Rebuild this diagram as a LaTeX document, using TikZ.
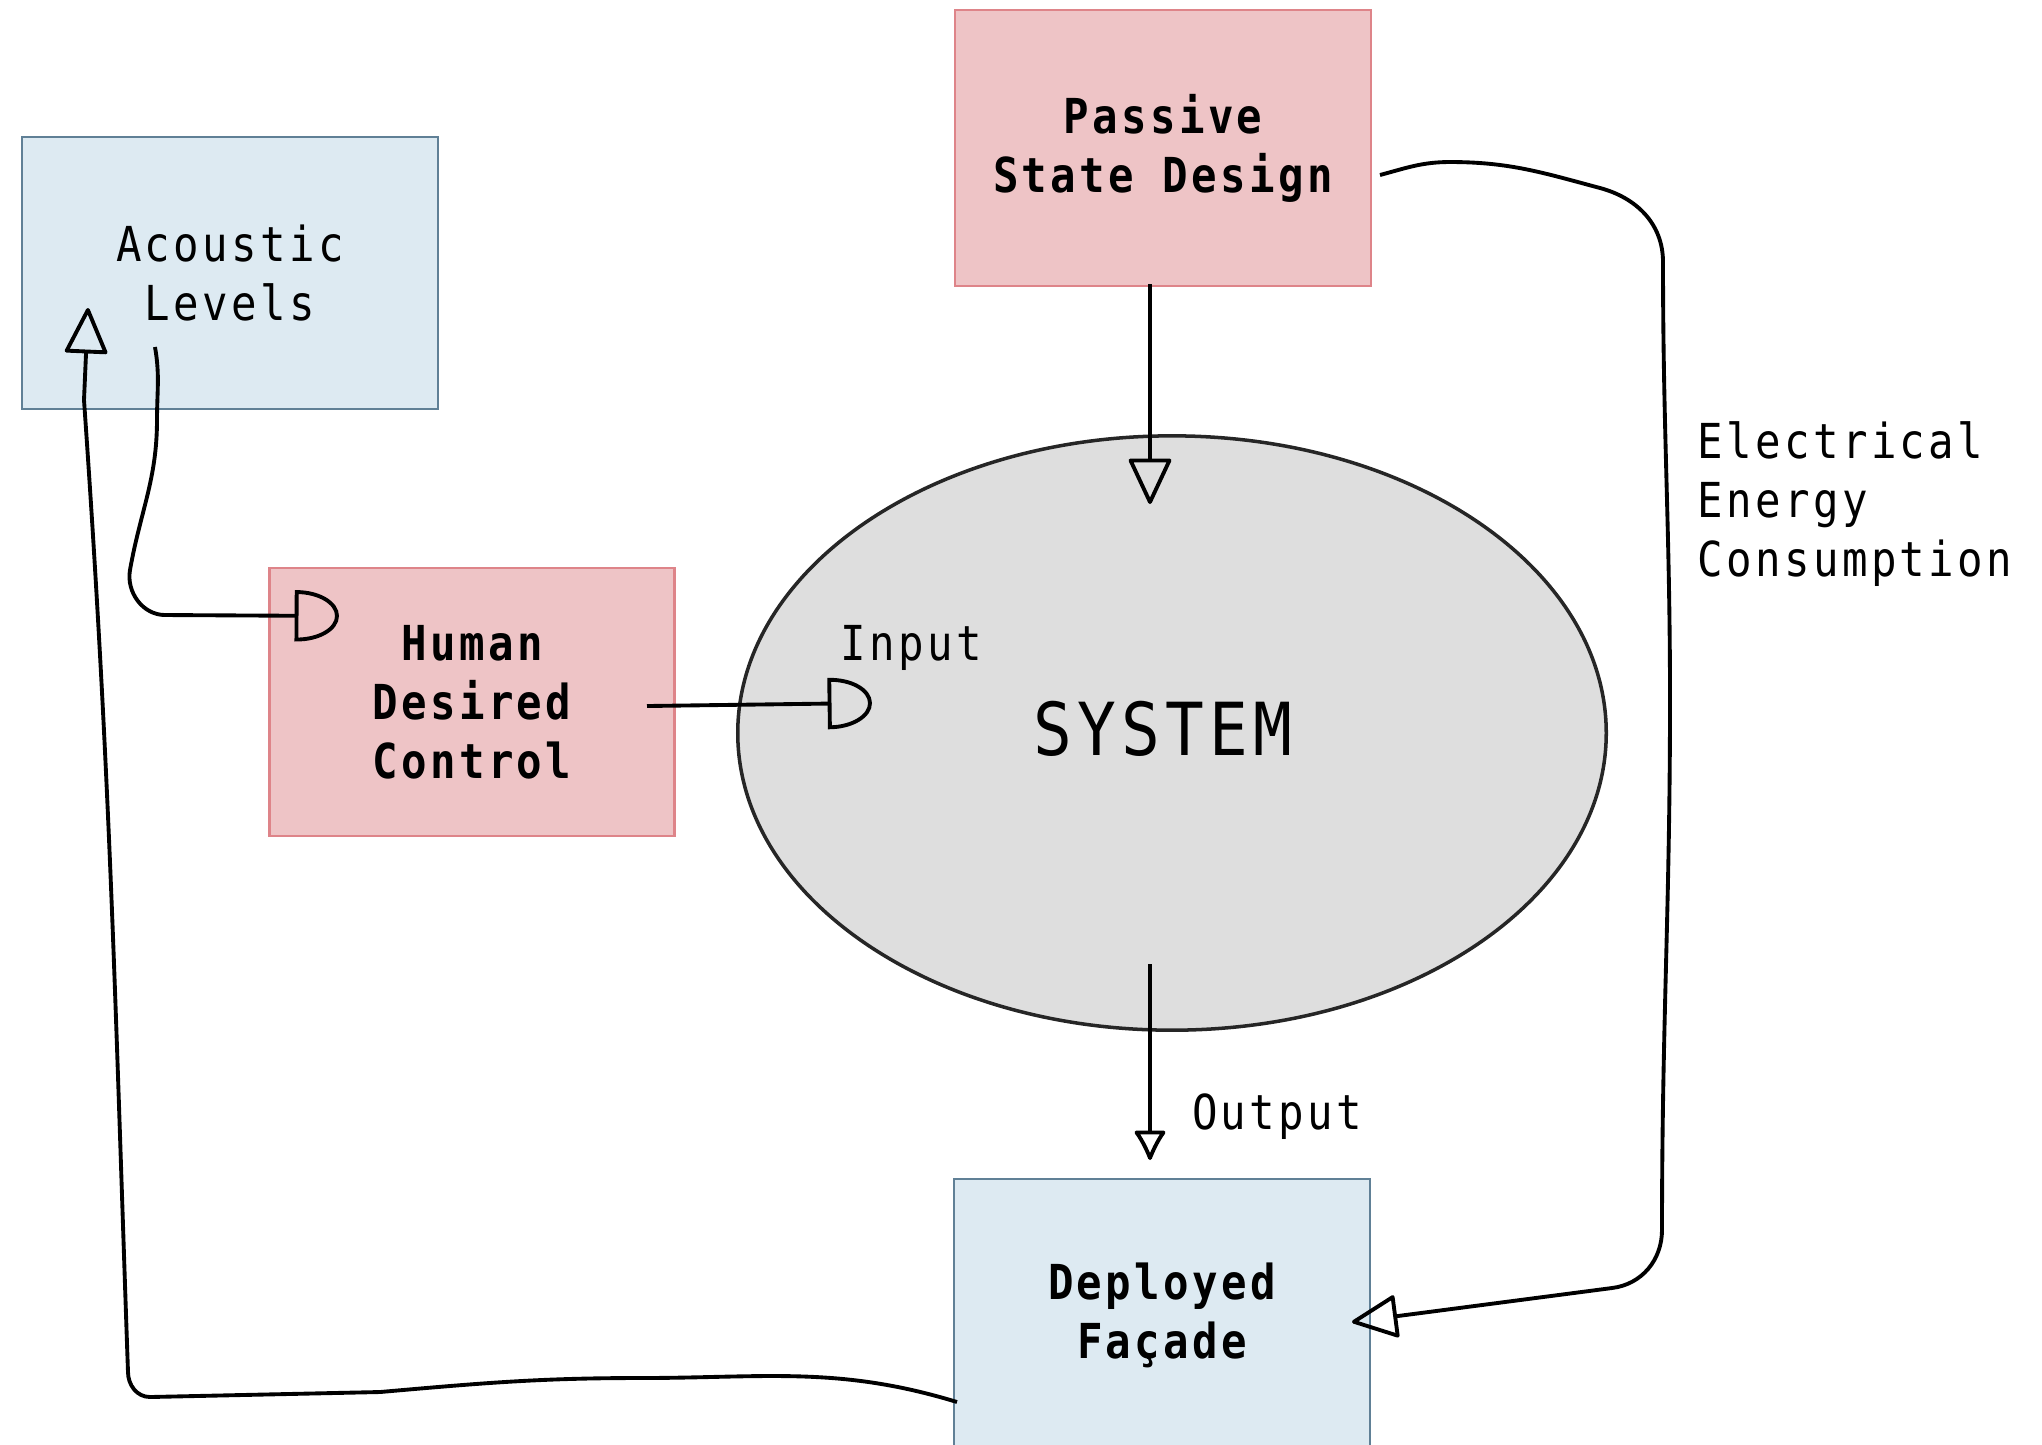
\documentclass[tikz,border=0pt]{standalone}
\usepackage{fontspec}
\setmainfont[FakeStretch=0.88, LetterSpace=7]{DejaVu Sans Mono}
\usetikzlibrary{arrows.meta,shapes.geometric}

\definecolor{pinkfill}{RGB}{238,196,198}
\definecolor{pinkline}{RGB}{222,132,137}
\definecolor{bluefill}{RGB}{221,234,242}
\definecolor{blueline}{RGB}{96,128,150}
\definecolor{sysfill}{RGB}{222,222,222}
\newcommand{\smalltxt}{\fontsize{13.7}{16.8}\selectfont}

% open half-round head (flat back, round front)
\pgfdeclarearrow{
	name = Dhead,
	parameters = {\the\pgfarrowlength,\the\pgfarrowwidth},
	setup code = {
		\pgfarrowssettipend{\pgfarrowlength}
		\pgfarrowssetbackend{0pt}
		\pgfarrowssetlineend{0pt}
		\pgfarrowssavethe\pgfarrowlength
		\pgfarrowssavethe\pgfarrowwidth
	},
	drawing code = {
		\pgfpathmoveto{\pgfqpoint{0pt}{.5\pgfarrowwidth}}
		\pgfpathcurveto{\pgfqpoint{.552\pgfarrowlength}{.5\pgfarrowwidth}}{\pgfqpoint{\pgfarrowlength}{.276\pgfarrowwidth}}{\pgfqpoint{\pgfarrowlength}{0pt}}
		\pgfpathcurveto{\pgfqpoint{\pgfarrowlength}{-.276\pgfarrowwidth}}{\pgfqpoint{.552\pgfarrowlength}{-.5\pgfarrowwidth}}{\pgfqpoint{0pt}{-.5\pgfarrowwidth}}
		\pgfpathclose
		\pgfusepathqstroke
	},
	defaults = {length=10pt, width=12pt}
}

\begin{document}
\begin{tikzpicture}[x=0.01cm, y=0.01cm,
	redbox/.style={draw=pinkline, fill=pinkfill, line width=0.7pt, inner sep=0pt,
		minimum width=4.16cm, minimum height=2.76cm, align=center, font=\smalltxt\bfseries},
	bluebox/.style={draw=blueline, fill=bluefill, line width=0.7pt, inner sep=0pt,
		minimum width=4.16cm, minimum height=2.72cm, align=center, font=\smalltxt},
	sysblob/.style={ellipse, draw=black!85, fill=sysfill, line width=1pt, inner sep=0pt,
		minimum width=8.68cm, minimum height=5.94cm},
	lbl/.style={inner sep=0pt, align=left, font=\smalltxt},
	flow/.style={line width=1.1pt, -{Triangle[open, length=13.7pt, width=12.5pt, round]}},
	flowd/.style={line width=1.1pt, -{Dhead[length=11.5pt, width=13.5pt]}},
	outflow/.style={line width=1.1pt, -{Latex[open, length=9.5pt, width=10pt, round]}}
	]
				\useasboundingbox (0,0) rectangle (2042,-1444);

				% Boxes
				\node[bluebox] (acoustic) at (230,-273) {Acoustic\\Levels};
				\node[redbox] (passive) at (1163,-148) {Passive\\State Design};
				\node[redbox, minimum width=4.05cm, minimum height=2.68cm] (human) at (472,-702) {Human\\Desired\\Control};
				\node[bluebox, font=\smalltxt\bfseries] (facade) at (1162,-1315) {Deployed\\Façade};

				% System
				\node[sysblob] (system) at (1172,-733) {};
				\node[inner sep=0pt, font=\fontsize{20.8}{25}\selectfont] (systxt) at (1163,-729) {SYSTEM};

				% Labels
				\node[lbl] (inlbl) at (911,-648) {Input};
				\node[lbl] (outlbl) at (1277,-1117) {Output};
				\node[lbl, anchor=west] (eleclbl) at (1697,-504) {Electrical\\Energy\\Consumption};

				% Loose ends
				\coordinate (psdout) at (1150,-284);
				\coordinate (sysin) at (1150,-504);
				\coordinate (sysout) at (1150,-964);
				\coordinate (facin) at (1150,-1160);
				\coordinate (hdcout) at (647,-706);
				\coordinate (sysleft) at (870,-703);
				\coordinate (aclout) at (155,-347);
				\coordinate (hdcleft) at (337,-616);
				\coordinate (facout) at (957,-1402);
				\coordinate (aclin) at (88,-308);
				\coordinate (psdright) at (1380,-175);
				\coordinate (facright) at (1352,-1322);

				% Arrows
				\draw[flow] (psdout) -- (sysin);
				\draw[outflow] (sysout) -- (facin);
				\draw[flowd] (hdcout) -- (sysleft);
				\draw[flowd] (aclout) to[out=-80,in=90] (157,-420) to[out=-90,in=80] (130,-570)
					to[out=-100,in=180] (165,-615) -- (hdcleft);
				\draw[flow] (facout) to[out=163,in=0] (640,-1378) to[out=180,in=5] (380,-1392) -- (150,-1397)
					to[out=180,in=-90] (128,-1372) to[out=92,in=-86] (84,-400) -- (aclin);
				\draw[flow] (psdright) to[out=15,in=180] (1450,-162) to[out=0,in=165] (1600,-188)
					to[out=-15,in=90] (1663,-262) to[out=-90,in=90] (1670,-700) to[out=-90,in=90] (1662,-1230)
					to[out=-90,in=7] (1612,-1288) -- (facright);
			\end{tikzpicture}
\end{document}
